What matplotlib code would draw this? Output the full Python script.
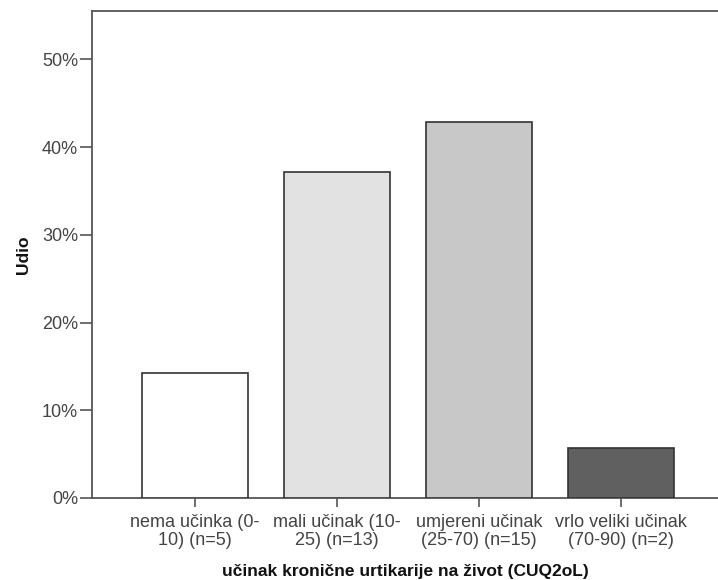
import matplotlib
matplotlib.use("Agg")
import matplotlib.pyplot as plt
from matplotlib.ticker import FuncFormatter

plt.rcParams['font.family'] = ['Liberation Sans', 'DejaVu Sans']

categories = ["nema učinka (0-\n10) (n=5)", "mali učinak (10-\n25) (n=13)",
              "umjereni učinak\n(25-70) (n=15)", "vrlo veliki učinak\n(70-90) (n=2)"]
values = [14.29, 37.14, 42.86, 5.71]
colors = ["#ffffff", "#e2e2e2", "#c8c8c8", "#606060"]
yticks = [0, 10, 20, 30, 40, 50]

fig = plt.figure(figsize=(7.18, 5.8), dpi=100)
ax = fig.add_axes([92/718, 82/580, (718-92)/718, (498-11)/580])

x = list(range(len(categories)))
ax.bar(x, values, width=0.75, color=colors, edgecolor="#333333", linewidth=1.2, zorder=3)

ax.set_xlim(-0.725, 3.683)
ax.set_ylim(0, 55.5)
ax.set_yticks(yticks)
ax.yaxis.set_major_formatter(FuncFormatter(lambda v, p: f"{int(v)}%"))
ax.set_xticks(x)
ax.set_xticklabels(categories, linespacing=1.05)

for s in ["left", "bottom", "top"]:
    ax.spines[s].set_color("#555555")
    ax.spines[s].set_linewidth(1.3)
ax.spines["right"].set_visible(False)

ax.tick_params(axis="y", length=8.5, width=1.2, color="#555555", labelsize=13,
               labelcolor="#444444", pad=1.5)
ax.tick_params(axis="x", length=6.5, width=1.2, color="#555555", labelsize=13,
               labelcolor="#444444", pad=5)

ax.set_ylabel("Udio", fontsize=12.5, fontweight="bold", labelpad=8, color="#111111")
ax.set_xlabel("učinak kronične urtikarije na život (CUQ2oL)", fontsize=12.5,
              fontweight="bold", labelpad=11, color="#111111")

fig.savefig("out.png", dpi=100)
